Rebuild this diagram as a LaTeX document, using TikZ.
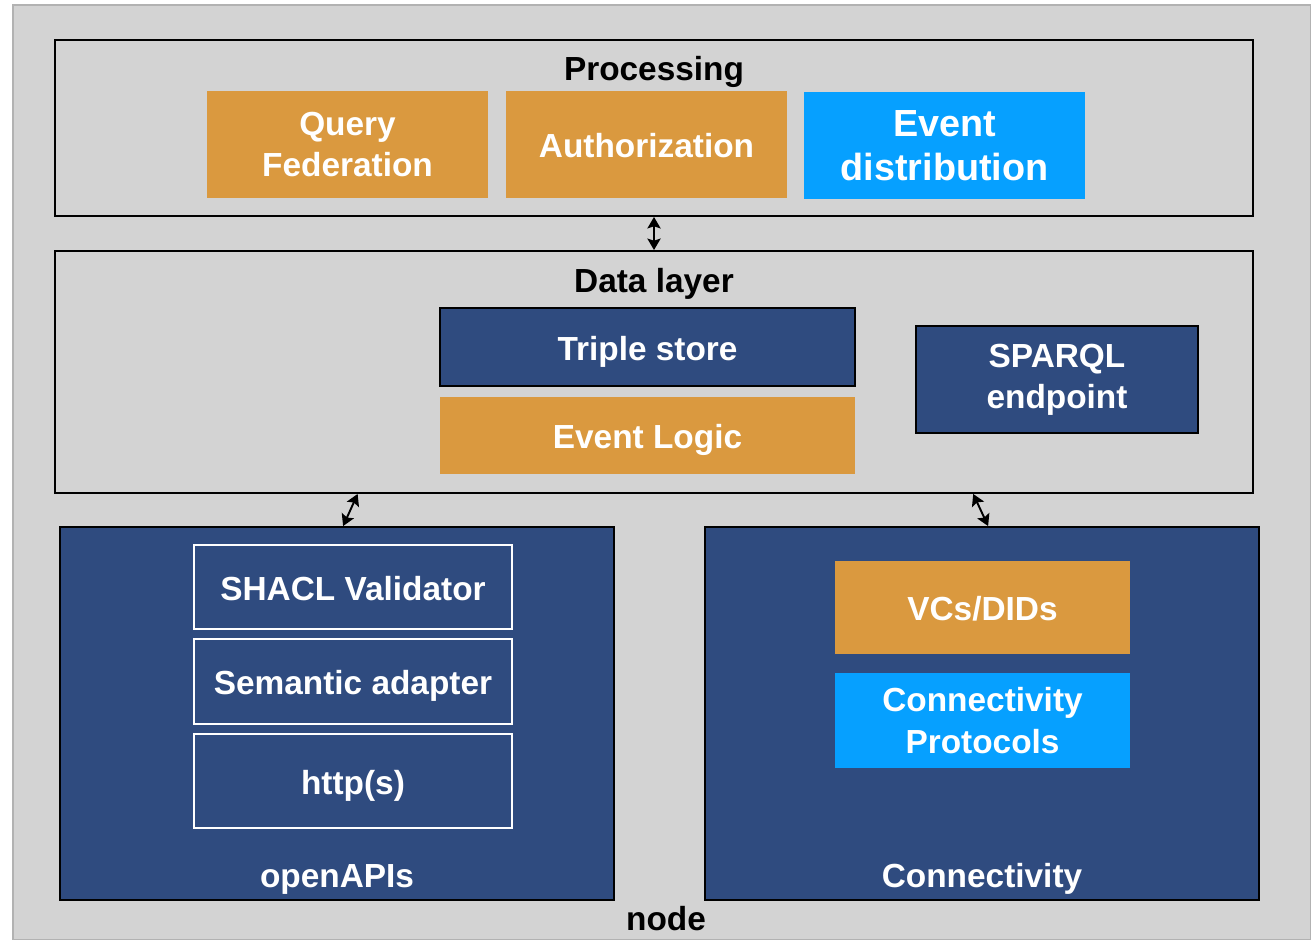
\documentclass[tikz,border=0pt]{standalone}
\usepackage{fontspec}
\setmainfont{Liberation Sans}
\usepackage{xcolor}
\usetikzlibrary{shapes,arrows.meta,positioning,calc}

\definecolor{panelgray}{HTML}{D3D3D3}
\definecolor{navy}{HTML}{2F4B7F}
\definecolor{amber}{HTML}{DA993F}
\definecolor{skyblue}{HTML}{06A0FF}

\begin{document}
\begin{tikzpicture}[font=\bfseries\fontsize{19}{23.5}\selectfont,
		layer/.style={rectangle, draw=black, line width=1.1pt, minimum width=23.96cm, inner sep=0pt},
		part/.style={rectangle, draw=black, fill=navy, line width=1.1pt, minimum width=11.08cm, minimum height=7.46cm, inner sep=0pt},
		box/.style={rectangle, text=white, align=center, inner sep=0pt},
		oneline/.style={text height=16pt, text depth=1.2pt},
		orange/.style={box, fill=amber},
		blue/.style={box, fill=skyblue},
		dark/.style={box, fill=navy, draw=black, line width=1.1pt},
		frame/.style={box, oneline, draw=white, line width=1.1pt, minimum width=6.36cm},
		caption/.style={text=white},
		title/.style={text=black},
		biarrow/.style={{Stealth[length=6.5pt,width=7.5pt,inset=1.2pt]}-{Stealth[length=6.5pt,width=7.5pt,inset=1.2pt]}, line width=1.1pt}]

		\useasboundingbox (0,0) rectangle (26.22,-18.8);
		\fill[panelgray, draw=black!30, line width=0.6pt] (0.26,-0.1) rectangle (26.22,-18.8);

		% processing layer
		\node [layer, minimum height=3.52cm] (proc) at (13.08,-2.56) {};
		\node [title] (proctitle) at (13.08,-1.44) {Processing};
		\node [orange, minimum width=5.62cm, minimum height=2.14cm] (query) at (6.95,-2.89) {Query\\Federation};
		\node [orange, oneline, minimum width=5.62cm, minimum height=2.14cm] (auth) at (12.93,-2.89) {Authorization};
		\node [blue, minimum width=5.62cm, minimum height=2.14cm, font=\bfseries\fontsize{21.5}{25}\selectfont] (event) at (18.89,-2.91) {Event\\distribution};

		% data layer
		\node [layer, minimum height=4.84cm] (data) at (13.08,-7.44) {};
		\node [title] (datatitle) at (13.08,-5.68) {Data layer};
		\node [dark, oneline, minimum width=8.3cm, minimum height=1.56cm] (triple) at (12.95,-6.94) {Triple store};
		\node [orange, oneline, minimum width=8.3cm, minimum height=1.54cm] (logic) at (12.95,-8.71) {Event Logic};
		\node [dark, minimum width=5.64cm, minimum height=2.14cm] (sparql) at (21.14,-7.59) {SPARQL\\endpoint};

		% node parts
		\node [part] (apis) at (6.74,-14.27) {};
		\node [caption] (apistitle) at (6.74,-17.58) {openAPIs};
		\node [frame, minimum height=1.68cm] (shacl) at (7.06,-11.74) {SHACL Validator};
		\node [frame, minimum height=1.7cm] (adapter) at (7.06,-13.63) {Semantic adapter};
		\node [frame, minimum height=1.88cm] (http) at (7.06,-15.62) {http(s)};

		\node [part] (conn) at (19.64,-14.27) {};
		\node [caption] (conntitle) at (19.64,-17.58) {Connectivity};
		\node [orange, oneline, minimum width=5.9cm, minimum height=1.86cm] (vcs) at (19.65,-12.15) {VCs/DIDs};
		\node [blue, minimum width=5.9cm, minimum height=1.9cm] (protocols) at (19.65,-14.41) {Connectivity\\Protocols};

		\node [title] (nodetitle) at (13.32,-18.38) {node};

		\draw [biarrow] (proc) -- (data);
		\draw [biarrow] ($(apis.north west)!0.511!(apis.north east)$) -- ($(data.south west)!0.253!(data.south east)$);
		\draw [biarrow] ($(conn.north west)!0.511!(conn.north east)$) -- ($(data.south west)!0.766!(data.south east)$);

	\end{tikzpicture}
\end{document}
